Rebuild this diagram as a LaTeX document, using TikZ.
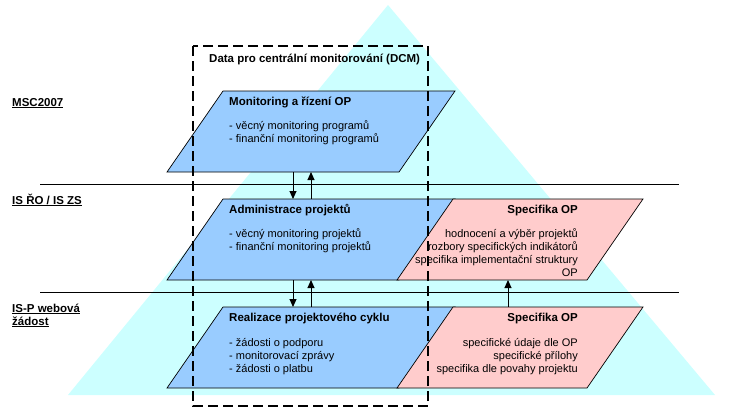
\documentclass[tikz,border=0pt]{standalone}
\usepackage{fontspec}
\setmainfont{Liberation Sans}
\usetikzlibrary{arrows.meta}
\definecolor{skycyan}{HTML}{CCFFFF}
\definecolor{panelblue}{HTML}{99CCFF}
\definecolor{panelpink}{HTML}{FFCCCC}
\tikzset{
  bluepanel/.style={fill=panelblue, draw=black, line width=0.7pt, line join=miter},
  pinkpanel/.style={fill=panelpink, draw=black, line width=0.7pt, line join=miter},
  dcmframe/.style={draw=black, line width=2pt, dash pattern=on 10pt off 5pt},
  titletext/.style={font=\fontsize{11.5}{13}\selectfont\bfseries, inner sep=0pt, anchor=base west},
  itemtext/.style={inner sep=0pt, anchor=base west},
  spectext/.style={inner sep=0pt, anchor=base east},
  flow/.style={line width=1pt, -{Triangle[width=7pt,length=8pt]}}
}
\begin{document}
\begin{tikzpicture}[x=1pt,y=-1pt,font=\fontsize{11}{13}\selectfont]
\useasboundingbox (0,0) rectangle (734,410);
% pyramid in the background
\fill[skycyan] (388,5) -- (715,395) -- (68,395) -- cycle;
% layer boundaries
\foreach \y in {184,292} \draw[line width=1pt] (40,\y) -- (679,\y);
% panels
\foreach \t in {91,199,307} \draw[bluepanel] (223,\t) -- (455,\t) -- (399,\t+81) -- (167,\t+81) -- cycle;
\foreach \t in {199,307} \draw[pinkpanel] (453,\t) -- (643,\t) -- (587,\t+81) -- (397,\t+81) -- cycle;
% DCM frame
\draw[dcmframe] (193,46) rectangle (428,406);
\node[titletext] (dcm) at (209,62) {Data pro centrální monitorování (DCM)};
% layer names
\node[titletext] (msc) at (12,106) {\underline{MSC2007}};
\node[titletext] (isro) at (12,204) {\underline{IS ŘO / IS ZS}};
\node[titletext] (isp) at (12,312) {\underline{IS-P webová}};
\node[titletext] (isp2) at (12,325) {\underline{žádost}};
% blue panels
\node[titletext] (mon) at (229,105) {Monitoring a řízení OP};
\foreach \txt [count=\i] in {- věcný monitoring programů, - finanční monitoring programů}
  \node[itemtext] (mon-\i) at (229,129+13*\i-13) {\txt};
\node[titletext] (adm) at (229,213) {Administrace projektů};
\foreach \txt [count=\i] in {- věcný monitoring projektů, - finanční monitoring projektů}
  \node[itemtext] (adm-\i) at (229,237+13*\i-13) {\txt};
\node[titletext] (real) at (229,321) {Realizace projektového cyklu};
\foreach \txt [count=\i] in {- žádosti o podporu, - monitorovací zprávy, - žádosti o platbu}
  \node[itemtext] (real-\i) at (229,346+13*\i-13) {\txt};
% pink panels
\node[titletext, anchor=base east] (specA) at (578,213) {Specifika OP};
\foreach \txt [count=\i] in {hodnocení a výběr projektů, rozbory specifických indikátorů, specifika implementační struktury, OP}
  \node[spectext] (specA-\i) at (578,237+13*\i-13) {\txt};
\node[titletext, anchor=base east] (specR) at (578,321) {Specifika OP};
\foreach \txt [count=\i] in {specifické údaje dle OP, specifické přílohy, specifika dle povahy projektu}
  \node[spectext] (specR-\i) at (578,346+13*\i-13) {\txt};
% data flows
\coordinate (mon-out) at (293,172);  \coordinate (adm-in) at (293,199);
\coordinate (adm-out) at (311,199);  \coordinate (mon-in) at (311,172);
\coordinate (adm-down) at (293,280); \coordinate (real-in) at (293,307);
\coordinate (real-out) at (311,307); \coordinate (adm-up) at (311,280);
\coordinate (specR-out) at (508,307); \coordinate (specA-in) at (508,280);
\draw[flow] (mon-out) -- (adm-in);
\draw[flow] (adm-out) -- (mon-in);
\draw[flow] (adm-down) -- (real-in);
\draw[flow] (real-out) -- (adm-up);
\draw[flow] (specR-out) -- (specA-in);
\end{tikzpicture}
\end{document}
